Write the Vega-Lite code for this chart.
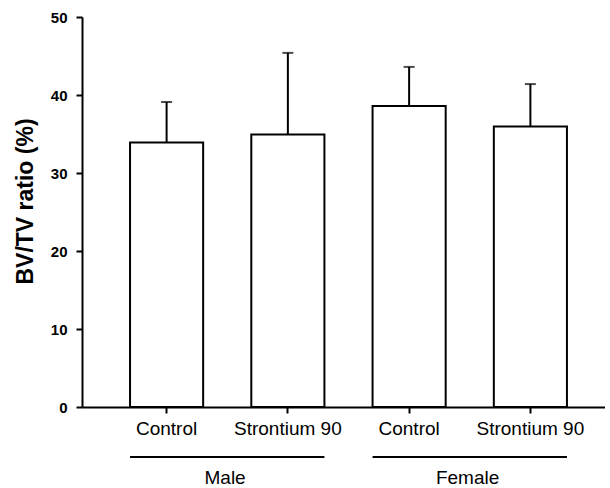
{
  "$schema": "https://vega.github.io/schema/vega-lite/v6.json",
  "width": 523,
  "height": 390,
  "padding": {"left": 14, "top": 10, "right": 0, "bottom": 0},
  "background": "white",
  "config": {
    "view": {"stroke": null},
    "font": "Liberation Sans",
    "axis": {"domainColor": "black", "domainWidth": 2, "tickColor": "black", "tickWidth": 2, "tickSize": 6, "labelColor": "black", "titleColor": "black", "grid": false, "labelFont": "Liberation Sans", "titleFont": "Liberation Sans"}
  },
  "datasets": {
    "bars": [
      {"sex": "Male", "treatment": "Control", "id": "Male|Control", "ratio": 33.9, "upper": 39.1},
      {"sex": "Male", "treatment": "Strontium 90", "id": "Male|Strontium 90", "ratio": 34.95, "upper": 45.4},
      {"sex": "Female", "treatment": "Control", "id": "Female|Control", "ratio": 38.6, "upper": 43.6},
      {"sex": "Female", "treatment": "Strontium 90", "id": "Female|Strontium 90", "ratio": 35.95, "upper": 41.4}
    ],
    "groups": [
      {"sex": "Male", "first": "Male|Control", "last": "Male|Strontium 90"},
      {"sex": "Female", "first": "Female|Control", "last": "Female|Strontium 90"}
    ]
  },
  "layer": [
    {
      "data": {"name": "bars"},
      "mark": {"type": "bar", "fill": "white", "stroke": "black", "strokeWidth": 2},
      "encoding": {
        "x": {"field": "id", "type": "nominal",
          "scale": {"domain": ["Male|Control", "Male|Strontium 90", "Female|Control", "Female|Strontium 90"], "paddingInner": 0.397, "paddingOuter": 0.355, "align": 0.558},
          "axis": {"title": null, "labelAngle": 0, "labelExpr": "split(datum.label, '|')[1]", "labelFontSize": 19, "labelPadding": 6}},
        "y": {"field": "ratio", "type": "quantitative", "scale": {"domain": [0, 50], "nice": false},
          "axis": {"title": "BV/TV ratio (%)", "values": [0, 10, 20, 30, 40, 50], "labelFontSize": 15, "labelFontWeight": "bold", "labelPadding": 9, "titleFontSize": 23, "titleFontWeight": "bold", "titlePadding": 13, "titleY": 184}}
      }
    },
    {
      "data": {"name": "bars"},
      "mark": {"type": "rule", "color": "black", "strokeWidth": 2},
      "encoding": {
        "x": {"field": "id", "type": "nominal"},
        "y": {"field": "ratio", "type": "quantitative"},
        "y2": {"field": "upper"}
      }
    },
    {
      "data": {"name": "bars"},
      "mark": {"type": "tick", "color": "black", "thickness": 2, "size": 11, "orient": "horizontal"},
      "encoding": {
        "x": {"field": "id", "type": "nominal"},
        "y": {"field": "upper", "type": "quantitative"}
      }
    },
    {
      "data": {"name": "groups"},
      "mark": {"type": "rule", "color": "black", "strokeWidth": 2},
      "encoding": {
        "x": {"field": "first", "type": "nominal", "bandPosition": 0},
        "x2": {"field": "last", "bandPosition": 1},
        "y": {"datum": -6.4, "type": "quantitative"}
      }
    },
    {
      "data": {"name": "groups"},
      "mark": {"type": "text", "color": "black", "fontSize": 19, "baseline": "middle", "align": "center"},
      "encoding": {
        "x": {"field": "first", "type": "nominal", "bandPosition": 1.3},
        "y": {"datum": -9.1, "type": "quantitative"},
        "text": {"field": "sex"}
      }
    }
  ]
}
